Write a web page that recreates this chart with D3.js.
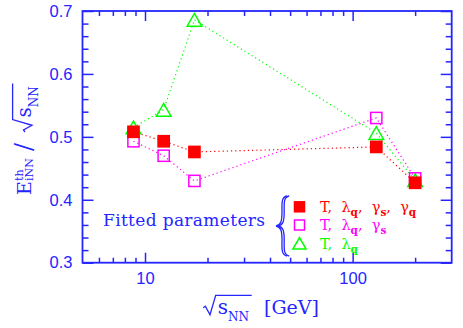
<!DOCTYPE html>
<html>
<head>
<meta charset="utf-8">
<script src="https://cdn.jsdelivr.net/npm/d3@7"></script>
<style>
body { margin: 0; background: #fff; }
svg { display: block; }
</style>
</head>
<body>
<svg id="chart" width="463" height="328"></svg>
<script>
// sqrt(s_NN) [GeV] of the five data sets
const energies = [8.8, 12.3, 17.3, 130, 200];

// E_iNN^th / sqrt(s_NN) for each fit
const fit_t_lq_gs_gq = [0.508, 0.493, 0.476, 0.484, 0.427];
const fit_t_lq_gs = [0.493, 0.470, 0.430, 0.530, 0.434];
const fit_t_lq = [0.515, 0.543, 0.686, 0.506, 0.431];

const y_major = [0.3, 0.4, 0.5, 0.6, 0.7];
const y_minor = [0.32, 0.34, 0.36, 0.38, 0.42, 0.44, 0.46, 0.48, 0.52, 0.54, 0.56, 0.58, 0.62, 0.64, 0.66, 0.68];
const x_major = [10, 100];
const x_minor = [6, 7, 8, 9, 20, 30, 40, 50, 60, 70, 80, 90, 200];

// legend text, [text, is_subscript]
const label_all = [["T,  ", 0], ["λ", 0], ["q", 1], [",  ", 0], ["γ", 0], ["s", 1], [",  ", 0], ["γ", 0], ["q", 1]];
const label_no_gq = [["T,  ", 0], ["λ", 0], ["q", 1], [",  ", 0], ["γ", 0], ["s", 1]];
const label_t_lq = [["T,  ", 0], ["λ", 0], ["q", 1]];

const blue = "#2525ff";
const serif = "'DejaVu Serif', serif";
const sans = "'Liberation Sans', Arial, sans-serif";

const svg = d3.select("#chart");

const plot_left = 82.5, plot_right = 451.7, plot_top = 11, plot_bottom = 262.7;
const x = d3.scaleLog().domain([5, 300]).range([plot_left, plot_right]);
const y = d3.scaleLinear().domain([0.3, 0.7]).range([plot_bottom, plot_top]);

function style_axis(g) {
    g.select(".domain").remove();
    g.selectAll(".tick line").attr("stroke", blue).attr("stroke-width", 1.5);
    g.selectAll(".tick text")
        .attr("fill", blue)
        .style("font-family", sans)
        .style("font-size", "16.5px");
}

// y axes, ticks pointing inwards
svg.append("g").attr("transform", `translate(${plot_left},0)`)
    .call(d3.axisLeft(y).tickValues(y_major).tickSize(-11).tickPadding(10).tickFormat(d3.format(".1f")))
    .call(style_axis);
svg.append("g").attr("transform", `translate(${plot_left},0)`)
    .call(d3.axisLeft(y).tickValues(y_minor).tickSize(-6).tickFormat(""))
    .call(style_axis);
svg.append("g").attr("transform", `translate(${plot_right},0)`)
    .call(d3.axisRight(y).tickValues(y_major).tickSize(-11).tickFormat(""))
    .call(style_axis);
svg.append("g").attr("transform", `translate(${plot_right},0)`)
    .call(d3.axisRight(y).tickValues(y_minor).tickSize(-6).tickFormat(""))
    .call(style_axis);

// x axes
svg.append("g").attr("transform", `translate(0,${plot_bottom})`)
    .call(d3.axisBottom(x).tickValues(x_major).tickSize(-10).tickPadding(9.5).tickFormat(d3.format("d")))
    .call(style_axis);
svg.append("g").attr("transform", `translate(0,${plot_bottom})`)
    .call(d3.axisBottom(x).tickValues(x_minor).tickSize(-5).tickFormat(""))
    .call(style_axis);
svg.append("g").attr("transform", `translate(0,${plot_top})`)
    .call(d3.axisTop(x).tickValues(x_major).tickSize(-10).tickFormat(""))
    .call(style_axis);
svg.append("g").attr("transform", `translate(0,${plot_top})`)
    .call(d3.axisTop(x).tickValues(x_minor).tickSize(-5).tickFormat(""))
    .call(style_axis);

svg.append("rect")
    .attr("x", plot_left).attr("y", plot_top)
    .attr("width", plot_right - plot_left).attr("height", plot_bottom - plot_top)
    .attr("fill", "none").attr("stroke", blue).attr("stroke-width", 1.8);

// data series
const series = [
    { values: fit_t_lq, color: "#00ff00", shape: "triangle", label: label_t_lq },
    { values: fit_t_lq_gs, color: "#ff00ff", shape: "open", label: label_no_gq },
    { values: fit_t_lq_gs_gq, color: "#ff0000", shape: "filled", label: label_all }
];

const line = d3.line()
    .x((d, i) => x(energies[i]))
    .y(d => y(d));

series.forEach(s => {
    svg.append("path")
        .attr("d", line(s.values))
        .attr("fill", "none")
        .attr("stroke", s.color)
        .attr("stroke-width", 1.2)
        .attr("stroke-dasharray", "1.2,3");
});

function draw_marker(g, cx, cy, s, size) {
    if (s.shape === "triangle") {
        let w = size * 1.15, h = size;
        g.append("path")
            .attr("d", `M${cx},${cy - h / 2}L${cx + w / 2},${cy + h / 2}L${cx - w / 2},${cy + h / 2}Z`)
            .attr("fill", "none").attr("stroke", s.color).attr("stroke-width", 1.5);
    } else if (s.shape === "open") {
        let a = size - 1.5;
        g.append("rect")
            .attr("x", cx - a / 2).attr("y", cy - a / 2)
            .attr("width", a).attr("height", a)
            .attr("fill", "none").attr("stroke", s.color).attr("stroke-width", 1.5);
    } else {
        g.append("rect")
            .attr("x", cx - size / 2).attr("y", cy - size / 2)
            .attr("width", size).attr("height", size)
            .attr("fill", s.color);
    }
}

const marks = svg.append("g");
series.forEach(s => {
    s.values.forEach((v, i) => draw_marker(marks, x(energies[i]), y(v), s, 12.7));
});

// legend
svg.append("text")
    .attr("x", 103).attr("y", 226)
    .attr("fill", blue)
    .style("font-family", serif)
    .style("font-size", "17px")
    .attr("textLength", 162)
    .text("Fitted parameters");

const brace = "M287,196 C281,197 282,204 282,212 C282,221 281,225 276,226 C281,227 282,231 282,240 C282,248 281,255 287,256";
[0, 2.2].forEach(dx => {
    svg.append("path")
        .attr("d", brace)
        .attr("transform", `translate(${dx},0)`)
        .attr("fill", "none").attr("stroke", blue).attr("stroke-width", 1.3);
});

const legend_rows = [series[2], series[1], series[0]];
const row_marker_y = [206.8, 225, 243.3];
const row_text_y = [211.7, 229.5, 249];

legend_rows.forEach((s, r) => {
    draw_marker(svg, 299.5, row_marker_y[r], s, 11.5);
    let t = svg.append("text")
        .attr("x", 320).attr("y", row_text_y[r])
        .attr("fill", s.color)
        .style("font-family", serif)
        .style("font-size", "14.5px")
        .attr("xml:space", "preserve");
    let shifted = false;
    s.label.forEach(([txt, sub]) => {
        let ts = t.append("tspan").text(txt);
        if (sub && !shifted) { ts.attr("dy", 4).style("font-size", "10.5px").style("font-weight", "bold"); shifted = true; }
        else if (!sub && shifted) { ts.attr("dy", -4); shifted = false; }
    });
});

// sqrt sign + s_NN, drawn along the text baseline of group g starting at x0
function sqrt_s_nn(g, x0, font_size) {
    g.append("path")
        .attr("d", `M${x0},${-6}L${x0 + 2},${-7.5}L${x0 + 6.7},1L${x0 + 12.4},${-18.4}L${x0 + 48.4},${-18.4}`)
        .attr("fill", "none").attr("stroke", blue).attr("stroke-width", 1.3);
    let t = g.append("text")
        .attr("x", x0 + 14.4).attr("y", 0)
        .attr("fill", blue)
        .style("font-family", serif)
        .style("font-size", font_size + "px");
    t.append("tspan").text("s");
    t.append("tspan").attr("dy", 7).style("font-size", "12px").text("NN");
}

// x axis title
const xt = svg.append("g").attr("transform", "translate(0,313.7)");
sqrt_s_nn(xt, 203.3, 20);
xt.append("text")
    .attr("x", 264).attr("y", 0)
    .attr("fill", blue)
    .style("font-family", serif)
    .style("font-size", "19px")
    .text("[GeV]");

// y axis title, rotated
const yt = svg.append("g").attr("transform", "translate(31,0) rotate(-90)");
yt.append("text")
    .attr("x", -195).attr("y", 0)
    .attr("fill", blue)
    .style("font-family", serif)
    .style("font-size", "19px")
    .text("E");
yt.append("text")
    .attr("x", -181).attr("y", -8)
    .attr("fill", blue)
    .style("font-family", serif)
    .style("font-size", "11px")
    .text("th");
yt.append("text")
    .attr("x", -181).attr("y", 2)
    .attr("fill", blue)
    .style("font-family", serif)
    .style("font-size", "11px")
    .text("iNN");
yt.append("text")
    .attr("x", -151).attr("y", 1)
    .attr("fill", blue)
    .style("font-family", serif)
    .style("font-size", "24px")
    .text("/");
sqrt_s_nn(yt, -132, 20);
</script>
</body>
</html>
